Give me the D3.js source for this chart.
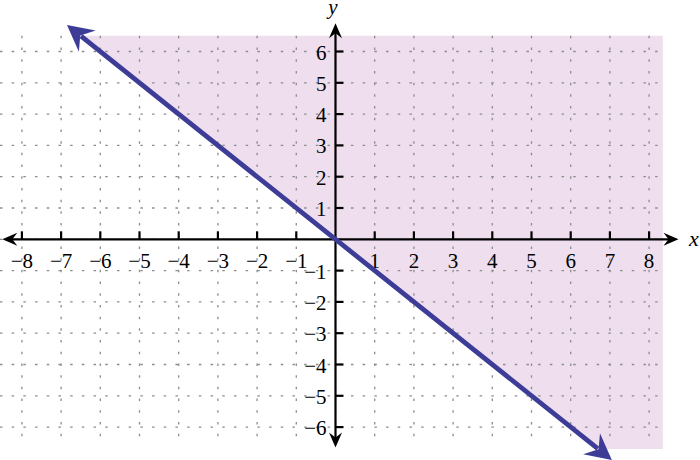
<!DOCTYPE html>
<html><head><meta charset="utf-8">
<script src="https://cdn.jsdelivr.net/npm/d3@7"></script>
<style>html,body{margin:0;padding:0;background:#fff;}svg{display:block;}
svg text{font-family:"Liberation Serif","Times New Roman",Times,serif;}</style>
</head><body>
<svg id="chart" width="700" height="460"></svg>
<script>
// ---- data ----
const xTickValues = [-8,-7,-6,-5,-4,-3,-2,-1,1,2,3,4,5,6,7,8];
const yTickValues = [-6,-5,-4,-3,-2,-1,1,2,3,4,5,6];
const gridX = [-8,-7,-6,-5,-4,-3,-2,-1,0,1,2,3,4,5,6,7,8];
const gridY = [-6,-5,-4,-3,-2,-1,0,1,2,3,4,5,6];
const lineXs = [-6.85, 7.05];          // boundary line y = -x (arrow tips)
const lineYs = [6.85, -7.05];
const shadeXs = [-6.5, 8.35, 8.35, 6.7]; // shaded half-plane y >= -x
const shadeYs = [6.5, 6.5, -6.7, -6.7];
const xAxisExtent = [-8.5, 8.75];
const yAxisExtent = [-6.65, 6.9];
const gridXExtent = [-8.56, 8.45];
const gridYExtent = [-6.5, 6.5];

// ---- scales ----
const x = d3.scaleLinear().domain([-8, 8]).range([21.9, 649.1]);
const y = d3.scaleLinear().domain([-6, 6]).range([427.1, 51.5]);

const svg = d3.select("#chart");

// shading
svg.append("path")
  .attr("d", d3.line()(shadeXs.map((v,i)=>[x(v), y(shadeYs[i])])) + "Z")
  .attr("fill", "#efdfee");

// grid
const grid = svg.append("g").attr("stroke", "#8c8c8c").attr("stroke-width", 1.3).attr("stroke-dasharray", "2.5,9.2");
grid.selectAll("line.v").data(gridX).join("line").attr("class","v")
  .attr("x1", d=>x(d)).attr("x2", d=>x(d))
  .attr("y1", y(gridYExtent[1])).attr("y2", y(gridYExtent[0]));
grid.selectAll("line.h").data(gridY).join("line").attr("class","h")
  .attr("y1", d=>y(d)).attr("y2", d=>y(d))
  .attr("x1", x(gridXExtent[0])).attr("x2", x(gridXExtent[1]));

// arrowhead helper
function arrowHead(g, tip, from, len, half, notch, color) {
  const dx = tip[0]-from[0], dy = tip[1]-from[1];
  const L = Math.hypot(dx, dy), ux = dx/L, uy = dy/L, px = -uy, py = ux;
  const b = [tip[0]-ux*len, tip[1]-uy*len];
  const p1 = [b[0]+px*half, b[1]+py*half];
  const p2 = [b[0]-px*half, b[1]-py*half];
  const n = [tip[0]-ux*notch, tip[1]-uy*notch];
  g.append("path").attr("d", `M${tip}L${p1}L${n}L${p2}Z`).attr("fill", color);
}

// axes
const axes = svg.append("g");
const x0 = x(0), y0 = y(0);
axes.append("line").attr("x1", x(xAxisExtent[0])+6).attr("x2", x(xAxisExtent[1])-6)
  .attr("y1", y0).attr("y2", y0).attr("stroke", "#000").attr("stroke-width", 2.2);
axes.append("line").attr("y1", y(yAxisExtent[1])+6).attr("y2", y(yAxisExtent[0])-6)
  .attr("x1", x0).attr("x2", x0).attr("stroke", "#000").attr("stroke-width", 2.2);
arrowHead(axes, [x(xAxisExtent[0]), y0], [x0, y0], 15, 6.5, 10, "#000");
arrowHead(axes, [x(xAxisExtent[1]), y0], [x0, y0], 15, 6.5, 10, "#000");
arrowHead(axes, [x0, y(yAxisExtent[1])], [x0, y0], 15, 6.5, 10, "#000");
arrowHead(axes, [x0, y(yAxisExtent[0])], [x0, y0], 15, 6.5, 10, "#000");

// ticks
axes.selectAll("line.xt").data(xTickValues).join("line").attr("class","xt")
  .attr("x1", d=>x(d)).attr("x2", d=>x(d)).attr("y1", y0).attr("y2", y0-8)
  .attr("stroke", "#000").attr("stroke-width", 2.2);
axes.selectAll("line.yt").data(yTickValues).join("line").attr("class","yt")
  .attr("y1", d=>y(d)).attr("y2", d=>y(d)).attr("x1", x0).attr("x2", x0+8)
  .attr("stroke", "#000").attr("stroke-width", 2.2);

const fmt = d => (d < 0 ? "\u2212" + Math.abs(d) : String(d));
svg.append("g").selectAll("text").data(xTickValues).join("text")
  .attr("x", d=>x(d)).attr("y", y0+29).attr("text-anchor","middle")
  .attr("font-size", 21).attr("fill","#000").text(fmt);
svg.append("g").selectAll("text").data(yTickValues).join("text")
  .attr("x", x0-9).attr("y", d=>y(d)+8).attr("text-anchor","end")
  .attr("font-size", 21).attr("fill","#000").text(fmt);

svg.append("text").attr("x", 694).attr("y", y0+7).attr("text-anchor","middle")
  .attr("font-style","italic").attr("font-size", 22).text("x");
svg.append("text").attr("x", 333).attr("y", 14).attr("text-anchor","middle")
  .attr("font-style","italic").attr("font-size", 21).text("y");

// boundary line with arrows
const pA = [x(lineXs[0]), y(lineYs[0])], pB = [x(lineXs[1]), y(lineYs[1])];
const lg = svg.append("g");
const dx = pB[0]-pA[0], dy = pB[1]-pA[1], L = Math.hypot(dx,dy);
const inset = 18;
lg.append("line")
  .attr("x1", pA[0]+dx/L*inset).attr("y1", pA[1]+dy/L*inset)
  .attr("x2", pB[0]-dx/L*inset).attr("y2", pB[1]-dy/L*inset)
  .attr("stroke", "#3d3c96").attr("stroke-width", 4.8);
arrowHead(lg, pA, pB, 26, 13.5, 17, "#3d3c96");
arrowHead(lg, pB, pA, 26, 13.5, 17, "#3d3c96");
</script>
</body></html>
